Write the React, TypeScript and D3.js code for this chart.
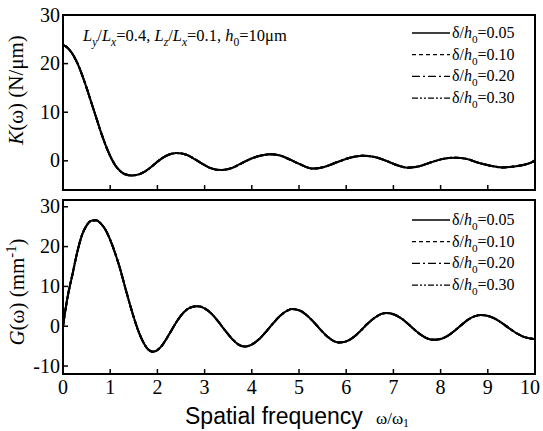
import React, { useEffect, useRef } from 'react';
import * as d3 from 'd3';

// spatial frequency ω/ω1 and K(ω) in N/μm (upper panel)
const kFreq = [0, 0.05, 0.1, 0.2, 0.3, 0.4, 0.5, 0.6, 0.7, 0.8, 0.9, 1.0, 1.1, 1.2, 1.3, 1.45, 1.6, 1.75, 1.9, 2.05, 2.2, 2.4, 2.6, 2.8, 2.95, 3.1, 3.35, 3.6, 3.8, 4.0, 4.2, 4.4, 4.6, 4.8, 5.0, 5.3, 5.55, 5.8, 6.1, 6.35, 6.6, 6.85, 7.05, 7.3, 7.55, 7.8, 8.05, 8.3, 8.55, 8.8, 9.05, 9.3, 9.6, 9.85, 9.95, 10];
const kValues = [23.8, 23.6, 23.2, 22.0, 20.2, 17.8, 15.0, 12.0, 9.0, 6.0, 3.3, 1.0, -0.8, -2.0, -2.7, -3.0, -2.8, -2.1, -1.0, 0.2, 1.1, 1.6, 1.3, 0.3, -0.6, -1.4, -1.9, -1.4, -0.4, 0.5, 1.1, 1.35, 1.1, 0.3, -0.6, -1.6, -1.2, -0.3, 0.7, 1.05, 0.8, 0.0, -0.8, -1.4, -1.1, -0.3, 0.4, 0.65, 0.4, -0.4, -1.0, -1.35, -1.1, -0.6, -0.2, 0.1];

// spatial frequency ω/ω1 and G(ω) in mm^-1 (lower panel)
const gFreq = [0, 0.05, 0.1, 0.2, 0.3, 0.4, 0.5, 0.6, 0.7, 0.8, 0.9, 1.0, 1.1, 1.2, 1.3, 1.4, 1.5, 1.6, 1.7, 1.8, 1.9, 2.0, 2.1, 2.2, 2.3, 2.4, 2.55, 2.7, 2.85, 3.0, 3.15, 3.3, 3.45, 3.6, 3.75, 3.85, 4.0, 4.15, 4.3, 4.45, 4.6, 4.75, 4.85, 5.0, 5.15, 5.3, 5.45, 5.6, 5.75, 5.85, 6.0, 6.15, 6.3, 6.45, 6.6, 6.75, 6.85, 7.0, 7.15, 7.3, 7.45, 7.6, 7.75, 7.85, 8.0, 8.15, 8.3, 8.45, 8.6, 8.75, 8.85, 9.0, 9.15, 9.3, 9.45, 9.6, 9.75, 9.9, 10];
const gValues = [0, 4, 7.5, 13, 18.5, 22.8, 25.3, 26.5, 26.6, 25.8, 24.2, 21.7, 18.5, 14.8, 10.5, 6.2, 2.2, -1.3, -4.0, -5.8, -6.4, -6.0, -4.8, -3.0, -1.0, 1.0, 3.4, 4.7, 5.0, 4.5, 3.1, 1.0, -1.3, -3.4, -4.8, -5.1, -4.6, -3.3, -1.4, 0.7, 2.6, 3.9, 4.3, 4.0, 2.9, 1.2, -0.8, -2.6, -3.8, -4.1, -3.8, -2.8, -1.2, 0.6, 2.1, 3.1, 3.3, 3.0, 2.1, 0.7, -0.9, -2.3, -3.2, -3.4, -3.2, -2.4, -1.1, 0.4, 1.8, 2.6, 2.8, 2.6, 1.9, 0.8, -0.5, -1.7, -2.6, -3.1, -3.3];

const deltaLabels = ['0.05', '0.10', '0.20', '0.30'];
const xTicks = [0, 1, 2, 3, 4, 5, 6, 7, 8, 9, 10];
const kTicks = [0, 10, 20, 30];
const gTicks = [-10, 0, 10, 20, 30];

const dashStyles = ['none', '4,3', '8,3,2,3', '6,2,2,2,2,2'];
const SERIF = "'Liberation Serif', 'Times New Roman', Times, serif";
const SANS = "'Liberation Sans', Arial, Helvetica, sans-serif";

type Part = [string, string?]; // text, style: i | sub | isub | sup

const rich = (sel: any, parts: Part[], size: number, subShift = 0.3) => {
    let shift = 0;
    parts.forEach(([t, s]) => {
        const sub = s === 'sub' || s === 'isub';
        const sup = s === 'sup';
        const target = sub ? size * subShift : sup ? -size * 0.4 : 0;
        sel.append('tspan')
            .attr('dy', target - shift)
            .style('font-style', s === 'i' || s === 'isub' ? 'italic' : 'normal')
            .style('font-size', `${sub || sup ? size * 0.7 : size}px`)
            .text(t);
        shift = target;
    });
};

const App: React.FC = () => {
    const ref = useRef<SVGSVGElement>(null);

    useEffect(() => {
        const svg = d3.select(ref.current);
        svg.selectAll('*').remove();

        const left = 63;
        const right = 535;
        const x = d3.scaleLinear().domain([0, 10]).range([left, right]);

        const drawPanel = (top: number, bottom: number, domain: [number, number], xs: number[], ys: number[], yTicks: number[], legendY: number) => {
            const y = d3.scaleLinear().domain(domain).range([bottom, top]);
            const g = svg.append('g');

            const line = d3.line<number>()
                .x((d, i) => x(xs[i]))
                .y((d) => y(d))
                .curve(d3.curveMonotoneX);

            // the four δ/h0 curves lie on top of each other
            deltaLabels.slice().reverse().forEach((lab, j) => {
                g.append('path')
                    .attr('d', line(ys))
                    .attr('fill', 'none')
                    .attr('stroke', '#000')
                    .attr('stroke-width', 2)
                    .attr('stroke-dasharray', dashStyles[deltaLabels.length - 1 - j]);
            });

            g.append('rect')
                .attr('x', left).attr('y', top)
                .attr('width', right - left).attr('height', bottom - top)
                .attr('fill', 'none').attr('stroke', '#000').attr('stroke-width', 2);

            g.selectAll('.xt').data(xTicks.slice(1, -1)).enter().append('line')
                .attr('x1', (d) => x(d)).attr('x2', (d) => x(d))
                .attr('y1', bottom).attr('y2', bottom - 5)
                .attr('stroke', '#000').attr('stroke-width', 1.5);

            g.selectAll('.yt').data(yTicks).enter().append('line')
                .attr('x1', left).attr('x2', left + 5)
                .attr('y1', (d) => y(d)).attr('y2', (d) => y(d))
                .attr('stroke', '#000').attr('stroke-width', 1.5);

            g.selectAll('.yl').data(yTicks).enter().append('text')
                .attr('x', left - 3).attr('y', (d) => y(d) + 6.5)
                .attr('text-anchor', 'end')
                .style('font-family', SERIF).style('font-size', '20px')
                .text((d) => String(d));

            deltaLabels.forEach((lab, i) => {
                const cy = legendY + i * 21.7;
                g.append('line')
                    .attr('x1', 412).attr('x2', 450)
                    .attr('y1', cy).attr('y2', cy)
                    .attr('stroke', '#000').attr('stroke-width', 1.3)
                    .attr('stroke-dasharray', dashStyles[i]);
                const t = g.append('text')
                    .attr('x', 452).attr('y', cy + 5)
                    .style('font-family', SERIF).style('font-size', '16px');
                rich(t, [['δ/'], ['h', 'i'], ['0', 'sub'], ['=' + lab]], 16);
            });
            return g;
        };

        drawPanel(15, 190, [-6, 30], kFreq, kValues, kTicks, 33);
        drawPanel(200, 374, [-12, 31.7], gFreq, gValues, gTicks, 220);

        svg.selectAll('.xl').data(xTicks).enter().append('text')
            .attr('x', (d) => Math.min(x(d), 530)).attr('y', 394)
            .attr('text-anchor', 'middle')
            .style('font-family', SERIF).style('font-size', '20px')
            .text((d) => String(d));

        svg.append('text')
            .attr('x', 185).attr('y', 424)
            .style('font-family', SANS).style('font-size', '23px')
            .text('Spatial frequency');
        const om = svg.append('text')
            .attr('x', 376).attr('y', 424)
            .style('font-family', SERIF).style('font-size', '17px');
        rich(om, [['ω/ω'], ['1', 'sub']], 17, 0.2);

        const note = svg.append('text')
            .attr('x', 83).attr('y', 41)
            .style('font-family', SERIF).style('font-size', '16.5px');
        rich(note, [['L', 'i'], ['y', 'isub'], ['/'], ['L', 'i'], ['x', 'isub'], ['=0.4, '], ['L', 'i'], ['z', 'isub'], ['/'], ['L', 'i'], ['x', 'isub'], ['=0.1, '], ['h', 'i'], ['0', 'sub'], ['=10μm']], 16.5);

        const kLab = svg.append('text')
            .attr('transform', 'translate(23,90) rotate(-90)')
            .attr('text-anchor', 'middle')
            .style('font-family', SERIF).style('font-size', '21px');
        rich(kLab, [['K', 'i'], ['(ω) (N/μm)']], 21);

        const gLab = svg.append('text')
            .attr('transform', 'translate(24,292) rotate(-90)')
            .attr('text-anchor', 'middle')
            .style('font-family', SERIF).style('font-size', '21px');
        rich(gLab, [['G', 'i'], ['(ω)  (mm'], ['-1', 'sup'], [')']], 21);
    }, []);

    return (
        <svg ref={ref} width={543} height={431}
            style={{ position: 'absolute', left: 0, top: 0, background: '#fff' }}>
        </svg>
    );
};

export default App;
